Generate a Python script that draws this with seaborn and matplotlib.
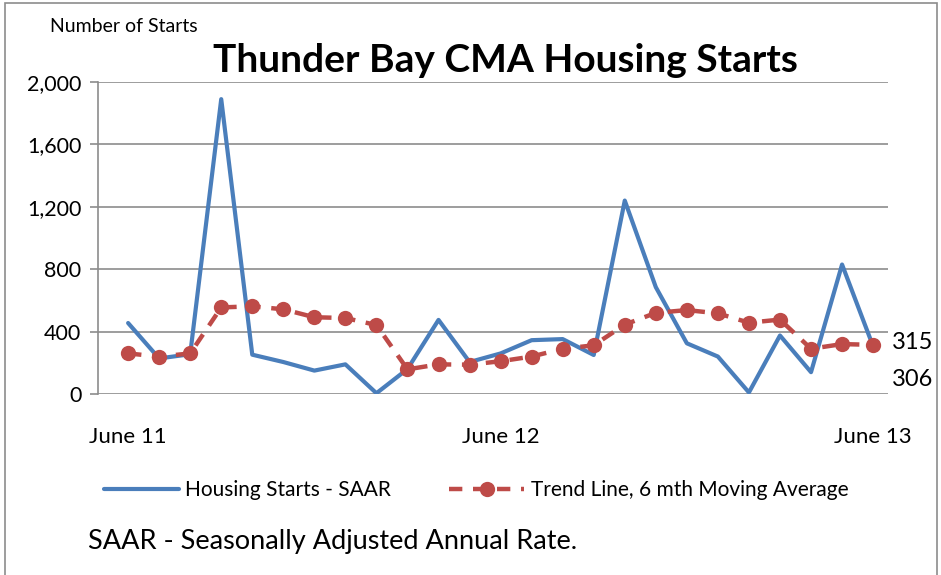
import matplotlib
matplotlib.use("Agg")
import matplotlib.pyplot as plt
import matplotlib.patches as mpatches
import seaborn as sns
import pandas as pd
import numpy as np

months = list(range(25))
tick_positions = [0, 12, 24]
tick_labels = ["June 11", "June 12", "June 13"]
starts_saar = [455, 228, 255, 1890, 252, 205, 150, 190, 5, 160, 475, 205, 260, 345, 352, 250,
               1240, 685, 325, 240, 10, 375, 140, 830, 306]
trend_6mth = [260, 240, 260, 555, 562, 543, 492, 487, 442, 158, 190, 188, 210, 240, 290, 312,
              445, 520, 538, 517, 457, 477, 290, 320, 315]
y_ticks = [0, 400, 800, 1200, 1600, 2000]
end_labels = ["315", "306"]

df = pd.DataFrame({"month": months, "saar": starts_saar, "trend": trend_6mth})

sns.set_theme(style="white")
plt.rcParams['font.family'] = ['Lato', 'DejaVu Sans']
plt.rcParams['text.color'] = 'black'
plt.rcParams['xtick.color'] = 'black'
plt.rcParams['ytick.color'] = 'black'

W, H = 941, 575
fig = plt.figure(figsize=(W / 100, H / 100), dpi=100)
ax = fig.add_axes([98 / W, 1 - 394 / H, (888 - 98) / W, (394 - 82) / H])

blue = "#4A7EBB"
red = "#BE4B48"

sns.lineplot(data=df, x="month", y="saar", ax=ax, color=blue, linewidth=3.0,
             label="Housing Starts - SAAR", zorder=3)
sns.lineplot(data=df, x="month", y="trend", ax=ax, color=red, linewidth=3.2,
             marker="o", markersize=11, markeredgewidth=0, dashes=(3, 2.4),
             label="Trend Line, 6 mth Moving Average", zorder=4)

ax.set_xlim(-0.97, 24.48)
ax.set_ylim(0, 2000)
ax.set_yticks(y_ticks)
ax.set_yticklabels([f"{v:,}" for v in y_ticks], fontsize=15.5)
ax.set_xticks(tick_positions)
ax.set_xticklabels(tick_labels, fontsize=16)
ax.tick_params(axis="x", length=0, pad=24)
ax.tick_params(axis="y", length=6, width=1.2, color="#8c8c8c", pad=6, left=True,
               labelcolor="black")
ax.set_xlabel("")
ax.set_ylabel("")
ax.grid(axis="y", color="#8c8c8c", linewidth=1.2)
ax.set_axisbelow(True)
for s in ["top", "right", "bottom"]:
    ax.spines[s].set_visible(False)
ax.spines["left"].set_color("#8c8c8c")
ax.spines["left"].set_linewidth(1.2)

# end labels
ax.text(24.6, 330, end_labels[0], fontsize=17, va="center", ha="left", clip_on=False)
ax.text(24.6, 95, end_labels[1], fontsize=17, va="center", ha="left", clip_on=False)

fig.text(505 / W, 1 - 61 / H, "Thunder Bay CMA Housing Starts", fontsize=28,
         fontweight="bold", ha="center", va="center")
fig.text(50 / W, 1 - 27 / H, "Number of Starts", fontsize=14, ha="left", va="center")
fig.text(88 / W, 1 - 542 / H, "SAAR - Seasonally Adjusted Annual Rate.", fontsize=19.5,
         ha="left", va="center")

handles, labels = ax.get_legend_handles_labels()
ax.legend(handles, labels, loc="center", bbox_to_anchor=(476 / W, 1 - 490 / H),
          bbox_transform=fig.transFigure, ncol=2, frameon=False, fontsize=15,
          handlelength=3.6, handletextpad=0.3, columnspacing=2.8)

fig.patches.append(mpatches.Rectangle((5 / W, -0.1), (937 - 5) / W, 1.1 - 3 / H,
                                      transform=fig.transFigure, fill=False,
                                      edgecolor="#8c8c8c", linewidth=1.2))

fig.savefig("out.png", dpi=100)
